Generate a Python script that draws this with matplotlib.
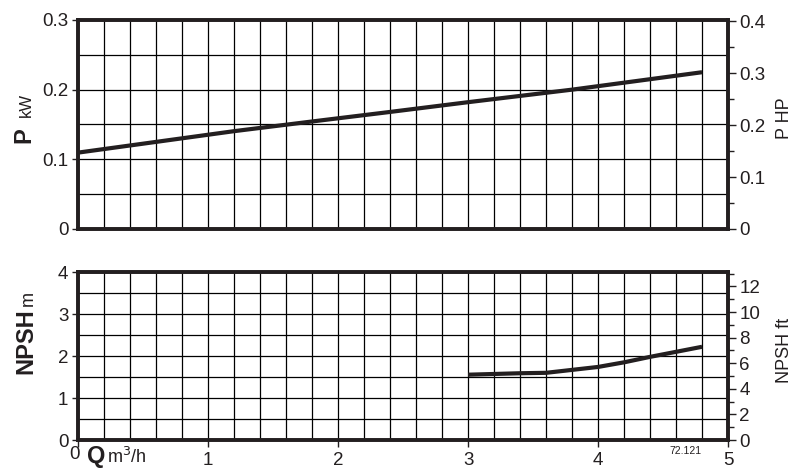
import matplotlib

matplotlib.use("Agg")

import matplotlib.pyplot as plt
from matplotlib.ticker import MultipleLocator

# power curve (kW) vs flow (m3/h)
q_power = [0.0, 1.2, 1.8, 2.4, 3.0, 3.8, 4.8]
p_kw = [0.1096, 0.1404, 0.1543, 0.168, 0.182, 0.200, 0.225]

# NPSH curve (m) vs flow (m3/h)
q_npsh = [3.0, 3.4, 3.6, 4.0, 4.2, 4.4, 4.8]
npsh_m = [1.555, 1.59, 1.60, 1.74, 1.85, 1.98, 2.22]

x_ticks = [0, 1, 2, 3, 4, 5]
x_tick_labels = ["", "1", "2", "3", "4", "5"]

KW_TO_HP = 1.341
M_TO_FT = 1 / 0.3048
INK = "#231f20"
FONT = "Liberation Sans"
TICK_FS = 13.5

plt.rcParams["font.family"] = FONT
plt.rcParams["text.color"] = INK
plt.rcParams["xtick.color"] = INK
plt.rcParams["ytick.color"] = INK

fig = plt.figure(figsize=(7.97, 4.70), dpi=100)
ax_p = fig.add_axes([0.0979, 0.5128, 0.8156, 0.4447])
ax_n = fig.add_axes([0.0979, 0.0638, 0.8156, 0.3574])


def style_axes(ax, ymax, ymajor, yminor):
    ax.set_xlim(0, 5)
    ax.set_ylim(0, ymax)
    ax.xaxis.set_major_locator(MultipleLocator(1))
    ax.xaxis.set_minor_locator(MultipleLocator(0.2))
    ax.yaxis.set_major_locator(MultipleLocator(ymajor))
    ax.yaxis.set_minor_locator(MultipleLocator(yminor))
    ax.grid(True, which="both", color="black", linewidth=0.9)
    ax.set_axisbelow(True)
    for s in ax.spines.values():
        s.set_linewidth(2.6)
        s.set_color(INK)
    ax.tick_params(axis="y", which="major", length=4, width=1, labelsize=TICK_FS, pad=3)
    ax.tick_params(axis="y", which="minor", length=0)
    ax.tick_params(axis="x", which="minor", length=0)
    ax.tick_params(axis="x", which="major", length=5, width=1, labelsize=TICK_FS)


style_axes(ax_p, 0.3, 0.1, 0.05)
ax_p.set_yticks([0, 0.1, 0.2, 0.3], ["0", "0.1", "0.2", "0.3"])
ax_p.tick_params(axis="x", which="major", length=0, labelbottom=False)
ax_p.plot(q_power, p_kw, color=INK, linewidth=3, solid_capstyle="butt")

style_axes(ax_n, 4, 1, 0.5)
ax_n.set_xticks(x_ticks, x_tick_labels)
ax_n.plot(q_npsh, npsh_m, color=INK, linewidth=3, solid_capstyle="butt")

# right-hand unit axes
ax_hp = ax_p.twinx()
ax_hp.set_ylim(0, 0.3 * KW_TO_HP)
ax_hp.yaxis.set_major_locator(MultipleLocator(0.1))
ax_hp.yaxis.set_minor_locator(MultipleLocator(0.05))
ax_hp.set_yticks([0, 0.1, 0.2, 0.3, 0.4], ["0", "0.1", "0.2", "0.3", "0.4"])
ax_hp.tick_params(axis="y", which="major", length=6, width=1, labelsize=TICK_FS, pad=2)
ax_hp.tick_params(axis="y", which="minor", length=4, width=1)

ax_ft = ax_n.twinx()
ax_ft.set_ylim(0, 4 * M_TO_FT)
ax_ft.yaxis.set_major_locator(MultipleLocator(2))
ax_ft.yaxis.set_minor_locator(MultipleLocator(1))
ax_ft.tick_params(axis="y", which="major", length=6, width=1, labelsize=TICK_FS, pad=2)
ax_ft.tick_params(axis="y", which="minor", length=4, width=1)

for ax in (ax_hp, ax_ft):
    for s in ax.spines.values():
        s.set_linewidth(2.6)
        s.set_color(INK)

# axis titles
fig.text(0.030, 0.712, "P", fontsize=17, fontweight="bold", rotation=90, ha="center", va="center")
fig.text(0.033, 0.776, "kW", fontsize=12, rotation=90, ha="center", va="center")
fig.text(0.032, 0.275, "NPSH", fontsize=17, fontweight="bold", rotation=90, ha="center", va="center")
fig.text(0.035, 0.365, "m", fontsize=13, rotation=90, ha="center", va="center")
fig.text(0.984, 0.749, "P HP", fontsize=13, rotation=90, ha="center", va="center")
fig.text(0.984, 0.255, "NPSH ft", fontsize=13, rotation=90, ha="center", va="center")

fig.text(0.094, 0.033, "0", fontsize=TICK_FS, ha="center", va="center")
fig.text(0.121, 0.004, "Q", fontsize=17, fontweight="bold", ha="center", va="bottom")
fig.text(0.134, 0.006, "m$^3$/h", fontsize=13, ha="left", va="bottom")
fig.text(0.860, 0.040, "72.121", fontsize=7.5, ha="center", va="center")

fig.savefig("out.png", dpi=100)
